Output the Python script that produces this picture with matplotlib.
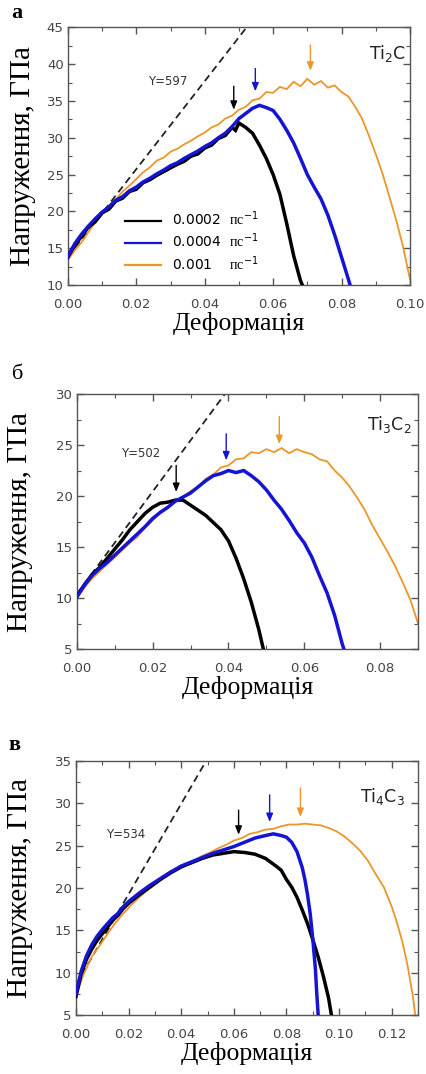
import matplotlib
matplotlib.use("Agg")
import matplotlib.pyplot as plt
from matplotlib.ticker import MultipleLocator

plt.rcParams['mathtext.fontset'] = 'custom'
plt.rcParams['mathtext.rm'] = 'Liberation Serif'
plt.rcParams['mathtext.default'] = 'regular'

# ---- Ti2C ----
a_black_x = [0.000, 0.002, 0.004, 0.006, 0.008, 0.010, 0.012, 0.014, 0.016, 0.018,
             0.020, 0.022, 0.024, 0.026, 0.028, 0.030, 0.032, 0.034, 0.036, 0.038,
             0.040, 0.042, 0.044, 0.046, 0.048, 0.049, 0.050, 0.052, 0.054, 0.056,
             0.058, 0.060, 0.062, 0.064, 0.066, 0.068, 0.069]
a_black_y = [13.8, 15.4, 16.6, 17.9, 18.6, 19.8, 20.3, 21.4, 21.8, 22.7,
             23.0, 23.9, 24.3, 24.9, 25.4, 25.9, 26.4, 26.8, 27.5, 27.8,
             28.6, 29.0, 29.9, 30.3, 31.4, 31.0, 32.0, 31.4, 30.6, 29.0,
             27.2, 25.0, 22.3, 18.3, 14.0, 10.6, 9.5]
a_blue_x = [0.000, 0.002, 0.004, 0.006, 0.008, 0.010, 0.012, 0.014, 0.016, 0.018,
            0.020, 0.022, 0.024, 0.026, 0.028, 0.030, 0.032, 0.034, 0.036, 0.038,
            0.040, 0.042, 0.044, 0.046, 0.048, 0.050, 0.052, 0.054, 0.056, 0.058,
            0.060, 0.062, 0.064, 0.066, 0.068, 0.070, 0.072, 0.074, 0.076, 0.078,
            0.080, 0.082, 0.083]
a_blue_y = [13.9, 15.6, 16.9, 18.0, 19.0, 19.9, 20.6, 21.5, 22.0, 22.8,
            23.3, 24.0, 24.5, 25.1, 25.6, 26.2, 26.6, 27.2, 27.7, 28.2,
            28.8, 29.3, 30.0, 30.6, 31.5, 32.6, 33.3, 34.0, 34.4, 34.1,
            33.7, 32.5, 31.0, 29.3, 27.2, 25.0, 23.3, 21.7, 19.5, 16.8,
            13.8, 10.8, 9.2]
a_orange_x = [0.000, 0.002, 0.004, 0.006, 0.008, 0.010, 0.012, 0.014, 0.016, 0.018,
              0.020, 0.022, 0.024, 0.026, 0.028, 0.030, 0.032, 0.034, 0.036, 0.038,
              0.040, 0.042, 0.044, 0.046, 0.048, 0.050, 0.052, 0.054, 0.056, 0.058,
              0.060, 0.062, 0.064, 0.066, 0.068, 0.070, 0.072, 0.074, 0.076, 0.078,
              0.080, 0.082, 0.084, 0.086, 0.088, 0.090, 0.092, 0.094, 0.096, 0.098,
              0.100]
a_orange_y = [13.4, 14.7, 15.8, 17.2, 18.5, 19.6, 20.8, 21.6, 22.7, 23.5,
              24.4, 25.3, 26.0, 26.9, 27.3, 28.1, 28.5, 29.1, 29.6, 30.2,
              30.7, 31.4, 31.8, 32.6, 33.0, 33.8, 34.2, 35.1, 35.3, 36.2,
              36.1, 36.9, 36.6, 37.6, 37.0, 38.0, 37.2, 37.7, 36.8, 37.1,
              36.2, 35.6, 34.2, 32.6, 30.3, 27.8, 25.1, 22.0, 18.8, 15.2,
              10.8]

# ---- Ti3C2 ----
b_black_x = [0.000, 0.002, 0.004, 0.006, 0.008, 0.010, 0.012, 0.014, 0.016, 0.018,
             0.020, 0.022, 0.024, 0.026, 0.028, 0.030, 0.032, 0.034, 0.036, 0.038,
             0.040, 0.042, 0.044, 0.046, 0.048, 0.0495]
b_black_y = [10.2, 11.3, 12.3, 13.0, 13.9, 14.8, 15.7, 16.7, 17.5, 18.3,
             18.9, 19.3, 19.4, 19.6, 19.6, 19.1, 18.6, 18.1, 17.4, 16.7,
             15.6, 13.9, 11.9, 9.6, 6.9, 4.5]
b_blue_x = [0.000, 0.002, 0.004, 0.006, 0.008, 0.010, 0.012, 0.014, 0.016, 0.018,
            0.020, 0.022, 0.024, 0.026, 0.028, 0.030, 0.032, 0.034, 0.036, 0.038,
            0.040, 0.042, 0.044, 0.046, 0.048, 0.050, 0.052, 0.054, 0.056, 0.058,
            0.060, 0.062, 0.064, 0.066, 0.068, 0.070, 0.071]
b_blue_y = [10.1, 11.3, 12.2, 12.9, 13.5, 14.2, 14.9, 15.6, 16.3, 17.0,
            17.8, 18.4, 18.9, 19.5, 19.9, 20.3, 20.9, 21.5, 22.0, 22.2,
            22.5, 22.3, 22.5, 22.0, 21.4, 20.6, 19.6, 18.7, 17.6, 16.4,
            15.4, 14.0, 12.2, 10.5, 8.3, 5.5, 4.4]
b_orange_x = [0.000, 0.002, 0.004, 0.006, 0.008, 0.010, 0.012, 0.014, 0.016, 0.018,
              0.020, 0.022, 0.024, 0.026, 0.028, 0.030, 0.032, 0.034, 0.036, 0.038,
              0.040, 0.042, 0.044, 0.046, 0.048, 0.050, 0.052, 0.054, 0.056, 0.058,
              0.060, 0.062, 0.064, 0.066, 0.068, 0.070, 0.072, 0.074, 0.076, 0.078,
              0.080, 0.082, 0.084, 0.086, 0.088, 0.090]
b_orange_y = [10.0, 11.0, 11.9, 12.6, 13.3, 14.0, 14.7, 15.4, 16.0, 16.9,
              17.6, 18.3, 18.8, 19.6, 19.9, 20.5, 20.9, 21.7, 22.1, 22.8,
              23.0, 23.6, 23.7, 24.3, 24.2, 24.6, 24.3, 24.7, 24.2, 24.6,
              24.3, 24.1, 23.6, 23.4, 22.5, 21.8, 20.9, 19.8, 18.6, 17.1,
              15.8, 14.5, 13.1, 11.5, 9.8, 7.5]

# ---- Ti4C3 ----
c_black_x = [0.000, 0.002, 0.004, 0.006, 0.008, 0.010, 0.012, 0.014, 0.016, 0.018,
             0.020, 0.024, 0.028, 0.032, 0.036, 0.040, 0.044, 0.048, 0.052, 0.056,
             0.060, 0.064, 0.068, 0.072, 0.076, 0.078, 0.080, 0.082, 0.084, 0.086,
             0.088, 0.090, 0.092, 0.094, 0.096, 0.0975]
c_black_y = [7.2, 9.9, 11.6, 12.8, 13.8, 14.6, 15.4, 16.2, 16.8, 17.6,
             18.2, 19.2, 20.1, 21.0, 21.8, 22.5, 23.0, 23.5, 23.9, 24.1,
             24.3, 24.2, 24.0, 23.5, 22.6, 22.1, 21.0, 20.1, 18.9, 17.4,
             15.8, 13.9, 11.9, 9.6, 7.0, 4.2]
c_blue_x = [0.000, 0.002, 0.004, 0.006, 0.008, 0.010, 0.012, 0.014, 0.016, 0.018,
            0.020, 0.024, 0.028, 0.032, 0.036, 0.040, 0.044, 0.048, 0.052, 0.056,
            0.060, 0.064, 0.068, 0.072, 0.075, 0.078, 0.080, 0.082, 0.084, 0.086,
            0.087, 0.088, 0.089, 0.090, 0.091, 0.0915, 0.0923]
c_blue_y = [7.5, 10.2, 12.0, 13.3, 14.3, 15.1, 15.8, 16.5, 17.0, 17.8,
            18.4, 19.4, 20.3, 21.1, 21.9, 22.6, 23.1, 23.6, 24.1, 24.5,
            24.9, 25.4, 25.9, 26.2, 26.4, 26.2, 26.0, 25.4, 24.3, 22.4,
            21.0, 19.2, 17.0, 14.0, 10.4, 7.6, 3.8]
c_orange_x = [0.000, 0.003, 0.006, 0.009, 0.012, 0.015, 0.018, 0.021, 0.024, 0.027,
              0.030, 0.033, 0.036, 0.039, 0.042, 0.045, 0.048, 0.051, 0.054, 0.057,
              0.060, 0.063, 0.066, 0.069, 0.072, 0.075, 0.078, 0.081, 0.084, 0.087,
              0.090, 0.093, 0.096, 0.099, 0.102, 0.105, 0.108, 0.111, 0.114, 0.117,
              0.120, 0.122, 0.124, 0.126, 0.128, 0.1293]
c_orange_y = [7.3, 9.9, 11.9, 13.2, 14.6, 15.9, 17.0, 18.0, 18.9, 19.7,
              20.4, 21.1, 21.7, 22.2, 22.8, 23.3, 23.8, 24.2, 24.7, 25.1,
              25.6, 25.9, 26.4, 26.6, 26.9, 27.0, 27.3, 27.5, 27.5, 27.6,
              27.5, 27.4, 27.1, 26.7, 26.1, 25.3, 24.4, 23.2, 21.6, 20.1,
              17.8, 15.9, 13.7, 10.9, 7.3, 4.2]

rates = ['0.0002', '0.0004', '0.001']
colors = ['#000000', '#1414d2', '#ec962a']

panels = [
    dict(letter='а', bold=True, rect=[0.159, 0.7346, 0.801, 0.240],
         xlim=0.10, ylim=(10, 45), ymajor=5,
         curves=[(a_black_x, a_black_y), (a_blue_x, a_blue_y), (a_orange_x, a_orange_y)],
         modulus=597, intercept=13.8, ylab=(0.0234, 37.6),
         name='Ti$_2$C', name_pos=(0.0935, 41.5),
         arrows_x=[0.0485, 0.0548, 0.0709], arrows_y=[(37.0, 33.8), (39.4, 36.3), (42.6, 39.1)],
         legend=True, lpos=(-0.094, 0.5)),
    dict(letter='б', bold=False, rect=[0.180, 0.3957, 0.799, 0.2374],
         xlim=0.09, ylim=(5, 30), ymajor=5,
         curves=[(b_black_x, b_black_y), (b_blue_x, b_blue_y), (b_orange_x, b_orange_y)],
         modulus=502, intercept=10.4, ylab=(0.0117, 24.2),
         name='Ti$_3$C$_2$', name_pos=(0.0825, 27.0),
         arrows_x=[0.0262, 0.0394, 0.0534], arrows_y=[(23.0, 20.4), (26.1, 23.5), (27.8, 25.1)],
         legend=False, lpos=(-0.128, 0.5)),
    dict(letter='в', bold=True, rect=[0.178, 0.0549, 0.801, 0.2365],
         xlim=0.13, ylim=(5, 35), ymajor=5,
         curves=[(c_black_x, c_black_y), (c_blue_x, c_blue_y), (c_orange_x, c_orange_y)],
         modulus=534, intercept=8.6, ylab=(0.0116, 26.3),
         name='Ti$_4$C$_3$', name_pos=(0.1165, 30.8),
         arrows_x=[0.0618, 0.0736, 0.0853], arrows_y=[(29.2, 26.3), (31.0, 27.8), (31.8, 28.4)],
         legend=False, lpos=(-0.126, 0.5)),
]

fig = plt.figure(figsize=(4.27, 10.74), dpi=100)

letter_pos = [(0.040, 0.988), (0.042, 0.651), (0.035, 0.306)]

for p, lp in zip(panels, letter_pos):
    ax = fig.add_axes(p['rect'])
    # elastic slope line
    xs = [0.0, p['xlim']]
    ax.plot(xs, [p['intercept'] + p['modulus'] * x for x in xs], ls=(0, (4, 2.5)),
            color='#222222', lw=1.3, zorder=1)
    # orange first, then black, then blue
    order = [2, 0, 1]
    widths = [2.5, 2.5, 1.3]
    for i in order:
        cx, cy = p['curves'][i]
        ax.plot(cx, cy, color=colors[i], lw=widths[i], zorder=2 + order.index(i),
                label=rates[i], solid_joinstyle='miter')
    for xa, (y0, y1), c in zip(p['arrows_x'], p['arrows_y'], colors):
        ax.annotate('', xy=(xa, y1), xytext=(xa, y0),
                    arrowprops=dict(arrowstyle='-|>,head_length=0.5,head_width=0.2',
                                    color=c, lw=1.0, shrinkA=0, shrinkB=0), zorder=6)
    ax.text(p['ylab'][0], p['ylab'][1], 'Y=%d' % p['modulus'], fontsize=8.5,
            color='#333333', va='center', ha='left', family='DejaVu Sans')
    ax.text(p['name_pos'][0], p['name_pos'][1], p['name'], fontsize=12.5,
            color='#222222', ha='center', va='center', family='DejaVu Sans')

    ax.set_xlim(0, p['xlim'])
    ax.set_ylim(*p['ylim'])
    ax.xaxis.set_major_locator(MultipleLocator(0.02))
    ax.xaxis.set_minor_locator(MultipleLocator(0.01))
    ax.yaxis.set_major_locator(MultipleLocator(p['ymajor']))
    ax.yaxis.set_minor_locator(MultipleLocator(p['ymajor'] / 2))
    ax.xaxis.set_major_formatter(plt.FuncFormatter(lambda v, _: '%.2f' % v))
    ax.tick_params(which='both', direction='in', top=True, right=True,
                   color='#555555', labelcolor='#444444', labelsize=9.5)
    ax.tick_params(axis='x', which='major', pad=9)
    ax.tick_params(axis='y', which='major', pad=3)
    ax.tick_params(which='major', length=5, width=1.0)
    ax.tick_params(which='minor', length=3, width=0.8)
    for lbl in ax.get_xticklabels() + ax.get_yticklabels():
        lbl.set_family('DejaVu Sans')
    for s in ax.spines.values():
        s.set_color('#555555')
        s.set_linewidth(1.0)

    ax.set_xlabel('Деформація', family='Liberation Serif', fontsize=18.5, labelpad=1)
    ax.set_ylabel('Напруження, ГПа', family='Liberation Serif', fontsize=21)
    ax.yaxis.set_label_coords(*p['lpos'])

    if p['legend']:
        h, l = ax.get_legend_handles_labels()
        hl = dict(zip(l, h))
        labels = [r'0.0002  $\mathrm{пс}^{-1}$', r'0.0004  $\mathrm{пс}^{-1}$',
                  r'0.001    $\mathrm{пс}^{-1}$']
        leg = ax.legend([hl[r] for r in rates], labels, loc='lower left',
                        bbox_to_anchor=(0.13, 0.0), frameon=False,
                        handlelength=2.6, handletextpad=0.8, labelspacing=0.25,
                        prop={'family': 'DejaVu Sans', 'size': 10})
        for line in leg.get_lines():
            line.set_linewidth(1.6)

    fig.text(lp[0], lp[1], p['letter'], family='Liberation Serif', fontsize=16,
             fontweight='bold' if p['bold'] else 'normal', ha='center', va='center')

fig.savefig('out.png', dpi=100)
